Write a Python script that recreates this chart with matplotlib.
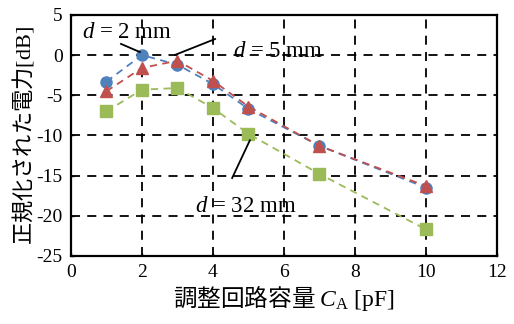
import matplotlib
matplotlib.use("Agg")
import matplotlib.pyplot as plt

plt.rcParams['axes.unicode_minus'] = False
plt.rcParams['mathtext.fontset'] = 'custom'
plt.rcParams['mathtext.rm'] = 'Liberation Serif'
plt.rcParams['mathtext.it'] = 'Liberation Serif:italic'

# Data
x_vals = [1, 2, 3, 4, 5, 7, 10]
d2_mm = [-3.3, 0.0, -1.2, -3.6, -6.7, -11.3, -16.5]
d5_mm = [-4.5, -1.6, -0.7, -3.2, -6.4, -11.3, -16.3]
d32_mm = [-7.0, -4.3, -4.1, -6.6, -9.8, -14.8, -21.7]
x_ticks = [0, 2, 4, 6, 8, 10, 12]
y_ticks = [-25, -20, -15, -10, -5, 0, 5]

serif = ['Liberation Serif', 'DejaVu Serif']
cjk = ['Noto Sans CJK JP', 'Liberation Serif', 'DejaVu Sans']

fig = plt.figure(figsize=(5.14, 3.24), dpi=100)
ax = fig.add_axes([0.138, 0.210, 0.829, 0.744])

ax.plot(x_vals, d2_mm, linestyle=(0, (4, 3)), color='#4F81BD', lw=1.3,
        marker='o', markersize=8, zorder=3)
ax.plot(x_vals, d5_mm, linestyle=(0, (4, 3)), color='#C0504D', lw=1.3,
        marker='^', markersize=8.5, zorder=4)
ax.plot(x_vals, d32_mm, linestyle=(0, (4, 3)), color='#9BBB59', lw=1.3,
        marker='s', markersize=8, zorder=3)

ax.set_xlim(0, 12)
ax.set_ylim(-25, 5)
ax.set_xticks(x_ticks)
ax.set_yticks(y_ticks)
ax.grid(True, color='black', linestyle=(0, (5, 4)), lw=1.3, zorder=1)
ax.set_axisbelow(True)
for s in ax.spines.values():
    s.set_linewidth(1.6)
ax.tick_params(direction='in', length=2, width=1, labelsize=14, pad=6)
for lab in ax.get_xticklabels() + ax.get_yticklabels():
    lab.set_fontfamily(serif)

ax.set_xlabel('調整回路容量 $C_\\mathrm{A}\\ \\mathrm{[pF]}$', fontsize=17, family=cjk, labelpad=2)
ax.set_ylabel('正規化された電力$\\mathrm{[dB]}$', fontsize=16, family=cjk, labelpad=0)

ax.text(0.31, 2.8, '$d$ = 2 mm', fontsize=16.5, family=serif, va='center', ha='left')
ax.plot([1.41, 1.94], [1.39, 0.38], color='black', lw=1.3, zorder=5)
ax.text(4.56, 0.4, '$d$ = 5 mm', fontsize=16.5, family=serif, va='center', ha='left')
ax.plot([2.93, 4.06], [0.02, 2.0], color='black', lw=1.3, zorder=5)
ax.text(3.5, -18.9, '$d$ = 32 mm', fontsize=16.5, family=serif, va='center', ha='left')
ax.plot([4.54, 5.04], [-15.3, -10.6], color='black', lw=1.3, zorder=5)

fig.savefig('out.png', dpi=100)
